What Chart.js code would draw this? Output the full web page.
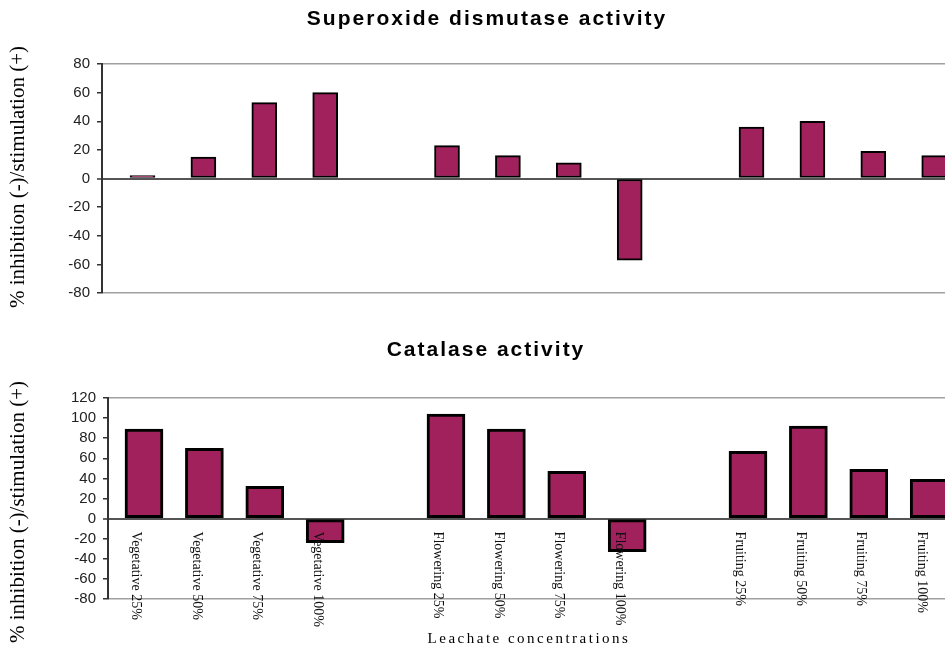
<!DOCTYPE html>
<html><head><meta charset="utf-8">
<script src="https://cdn.jsdelivr.net/npm/chart.js@4.4.1/dist/chart.umd.min.js"></script>
<style>
html,body{margin:0;padding:0;background:#fff;overflow:hidden;width:945px;height:650px}
.box{position:absolute;left:0;width:945px}
</style></head><body>
<div class="box" style="top:0;height:320px"><canvas id="c1" width="945" height="320"></canvas></div>
<div class="box" style="top:320px;height:330px"><canvas id="c2" width="945" height="330"></canvas></div>
<script>
// categories (empty strings are the gaps between growth stages)
const categories = [
  'Vegetative 25%', 'Vegetative 50%', 'Vegetative 75%', 'Vegetative 100%', '',
  'Flowering 25%', 'Flowering 50%', 'Flowering 75%', 'Flowering 100%', '',
  'Fruiting 25%', 'Fruiting 50%', 'Fruiting 75%', 'Fruiting 100%'
];
const sodValues = [2, 15, 53, 60, null, 23, 16, 11, -57, null, 36, 40, 19, 16];
const catValues = [89, 70, 32, -24, null, 104, 89, 47, -33, null, 67, 92, 49, 39];
const sodTicks = [80, 60, 40, 20, 0, -20, -40, -60, -80];
const catTicks = [120, 100, 80, 60, 40, 20, 0, -20, -40, -60, -80];
const sodTitle = 'Superoxide dismutase activity';
const catTitle = 'Catalase activity';
const yTitle = '% inhibition (-)/stimulation (+)';
const xTitle = 'Leachate concentrations';

const BAR = '#A0215B';
const SANS = '"Liberation Sans", Arial, Helvetica, sans-serif';
const SERIF = '"Liberation Serif", "Times New Roman", serif';

const toPoints = vals => vals.map((v, i) => ({x: i + 1, y: v}));

const textPlugin = {
  id: 'texts',
  afterDraw(chart, args, opts) {
    const ctx = chart.ctx;
    (opts.items || []).forEach(t => {
      ctx.save();
      ctx.font = t.font;
      ctx.fillStyle = t.color || '#000';
      if (t.spacing) ctx.letterSpacing = t.spacing;
      ctx.textAlign = 'center';
      ctx.textBaseline = 'middle';
      ctx.translate(t.x, t.y);
      if (t.rot) ctx.rotate(t.rot);
      ctx.fillText(t.text, 0, 0);
      ctx.restore();
    });
  }
};

const catLabelPlugin = {
  id: 'catLabels',
  afterDatasetsDraw(chart, args, opts) {
    if (!opts.show) return;
    const xs = chart.scales.x, ys = chart.scales.y, ctx = chart.ctx;
    const y0 = ys.getPixelForValue(0);
    ctx.save();
    ctx.font = '14px ' + SERIF;
    ctx.fillStyle = '#111';
    categories.forEach((lab, i) => {
      if (!lab) return;
      const x = xs.getPixelForValue(i + 1);
      ctx.save();
      ctx.translate(x - 8, y0 + 13);
      ctx.rotate(Math.PI / 2);
      ctx.textAlign = 'left';
      ctx.textBaseline = 'middle';
      ctx.fillText(lab, 0, 0);
      ctx.restore();
    });
    ctx.restore();
  }
};

function makeChart(id, values, ticks, cfg) {
  const yMax = ticks[0], yMin = ticks[ticks.length - 1];
  return new Chart(document.getElementById(id), {
    type: 'bar',
    data: {
      datasets: [{
        data: toPoints(values),
        backgroundColor: BAR,
        borderColor: '#000',
        borderWidth: cfg.border,
        borderSkipped: false,
        barThickness: cfg.barW
      }]
    },
    options: {
      responsive: false,
      animation: false,
      devicePixelRatio: 1,
      layout: {padding: {top: cfg.padTop, bottom: cfg.padBottom, left: 0, right: 0}},
      scales: {
        x: {
          type: 'linear', display: false, offset: false,
          grid: {offset: false},
          min: cfg.xMin, max: cfg.xMax,
          ticks: {stepSize: 1, includeBounds: false}
        },
        y: {
          min: yMin, max: yMax,
          afterBuildTicks: s => { s.ticks = ticks.map(v => ({value: v})); },
          afterFit: s => { s.width = cfg.axisX; },
          border: {color: '#333', width: 2},
          grid: {
            drawTicks: true, tickLength: 5, tickColor: '#333', tickWidth: 1.5,
            color: c => {
              const v = c.tick.value;
              if (v === 0) return '#555';
              if (v === yMax || v === yMin) return '#a0a0a0';
              return 'rgba(0,0,0,0)';
            },
            lineWidth: c => (c.tick.value === 0 ? 2 : 1.5)
          },
          ticks: {
            color: '#222', padding: 7, autoSkip: false,
            font: {family: SANS, size: 15}
          }
        }
      },
      plugins: {
        legend: {display: false},
        tooltip: {enabled: false},
        title: {display: false},
        texts: {items: cfg.texts},
        catLabels: {show: cfg.labels}
      }
    },
    plugins: [textPlugin, catLabelPlugin]
  });
}

makeChart('c1', sodValues, sodTicks, {
  border: 2, barW: 25, padTop: 64, padBottom: 27, axisX: 102,
  xMin: 0.335, xMax: 14.177, labels: false,
  texts: [
    {text: sodTitle, x: 487, y: 19, font: 'bold 21px ' + SANS, spacing: '2px'},
    {text: yTitle, x: 18, y: 177, rot: -Math.PI / 2, font: '21px ' + SERIF}
  ]
});

makeChart('c2', catValues, catTicks, {
  border: 3, barW: 38, padTop: 78, padBottom: 51, axisX: 108,
  xMin: 0.404, xMax: 14.262, labels: true,
  texts: [
    {text: catTitle, x: 486, y: 30, font: 'bold 21px ' + SANS, spacing: '2px'},
    {text: yTitle, x: 18, y: 192, rot: -Math.PI / 2, font: '21px ' + SERIF},
    {text: xTitle, x: 529, y: 319, font: '15px ' + SERIF, spacing: '2.5px'}
  ]
});
</script>
</body></html>
